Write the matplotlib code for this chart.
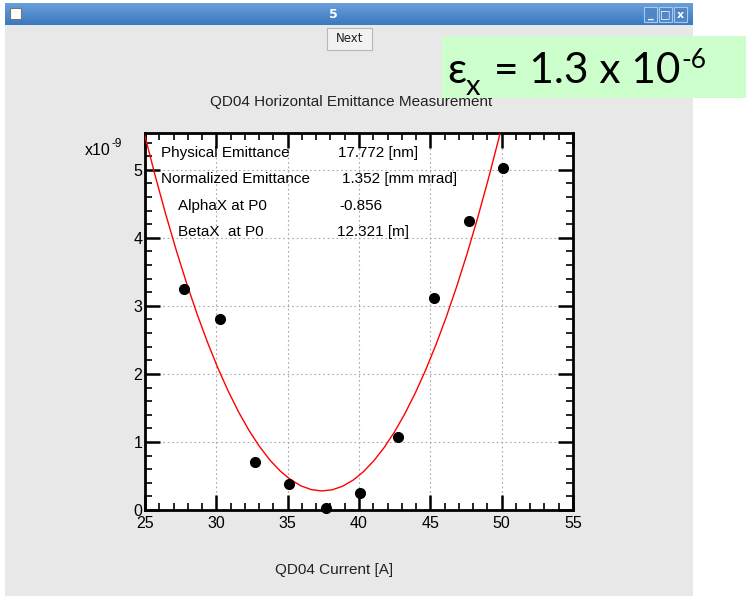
import numpy as np
import matplotlib.pyplot as plt
from matplotlib.patches import Rectangle
from matplotlib.ticker import MultipleLocator

plt.rcParams['font.family'] = ['Liberation Sans', 'DejaVu Sans']

# measured beam size^2 vs quad current
current = [27.73, 30.23, 32.71, 35.09, 37.72, 40.10, 42.73, 45.25, 47.70, 50.09]
sigma2 = [3.25, 2.80, 0.71, 0.38, 0.03, 0.25, 1.08, 3.12, 4.24, 5.03]

# parabola fit: sigma2 = fit_min + fit_curv * (I - fit_i0)^2
fit_i0 = 37.42
fit_min = 0.28
fit_curv = 0.0338
fit_current = np.linspace(25, 50.5, 36)

results = [
    ('Physical Emittance', '17.772 [nm]'),
    ('Normalized Emittance', '1.352 [mm mrad]'),
    ('AlphaX at P0', '-0.856'),
    ('BetaX  at P0', '12.321 [m]'),
]

W, H = 746, 596
fig = plt.figure(figsize=(W / 100, H / 100), dpi=100)


def fx(px):
    return px / W


def fy(py):
    return 1 - py / H


def box(x0, y0, x1, y1, **kw):
    r = Rectangle((fx(x0), fy(y1)), (x1 - x0) / W, (y1 - y0) / H,
                  transform=fig.transFigure, **kw)
    fig.add_artist(r)
    return r


# window frame
box(5, 3, 693, 596, facecolor='#e8e8e8', edgecolor='none', zorder=0)

# title bar gradient
tb = fig.add_axes([fx(5), fy(25), 688 / W, 22 / H])
grad = np.linspace(0, 1, 50).reshape(-1, 1)
tb.imshow(grad, aspect='auto', cmap=plt.matplotlib.colors.LinearSegmentedColormap.from_list(
    'tb', ['#6a9fda', '#3a78c0']), extent=[0, 1, 0, 1])
tb.set_axis_off()
fig.text(fx(333), fy(14), '5', color='white', fontsize=9, fontweight='bold',
         ha='center', va='center', family='DejaVu Sans')
box(10, 8, 21, 19, facecolor='white', edgecolor='#777777', lw=0.8, zorder=5)
for i, g in enumerate(['_', '\u25a1', 'x']):
    x0 = 644 + i * 15
    box(x0, 7, x0 + 13, 22, facecolor='#4f86c6', edgecolor='#a8c8ee', lw=0.8, zorder=5)
    fig.text(fx(x0 + 6.5), fy(14.5), g, color='white', fontsize=8, fontweight='bold',
             ha='center', va='center', family='DejaVu Sans', zorder=6)

# Next button
box(327, 28, 372, 50, facecolor='#f2f2f2', edgecolor='#b8b8b8', lw=0.8, zorder=2)
fig.text(fx(349.5), fy(39), 'Next', fontsize=8.5, ha='center', va='center',
         family='DejaVu Sans', color='#222222', zorder=3)

# plot
ax = fig.add_axes([fx(145), fy(510), (573 - 145) / W, (510 - 133) / H])
ax.plot(fit_current, fit_min + fit_curv * (fit_current - fit_i0) ** 2,
        color='red', lw=1, zorder=3)
ax.plot(current, sigma2, 'o', color='black', ms=7, zorder=4, clip_on=False)

ax.set_xlim(25, 55)
ax.set_ylim(0, 5.54)
ax.xaxis.set_major_locator(MultipleLocator(5))
ax.xaxis.set_minor_locator(MultipleLocator(1))
ax.yaxis.set_major_locator(MultipleLocator(1))
ax.yaxis.set_minor_locator(MultipleLocator(0.2))
ax.tick_params(which='both', direction='in', top=True, right=True, labelsize=11.5)
ax.tick_params(which='major', length=11, width=1.8)
ax.tick_params(which='minor', length=5, width=1.2)
ax.tick_params(axis='x', pad=4)
ax.tick_params(axis='y', pad=2)
for s in ax.spines.values():
    s.set_linewidth(2)
ax.grid(True, which='major', linestyle=(0, (1.5, 2.5)), color='#a8a8a8', lw=0.8)
ax.set_axisbelow(True)

# axis multiplier
fig.text(fx(85), fy(155), 'x10', fontsize=11.5, ha='left', va='baseline')
fig.text(fx(112), fy(147), '-9', fontsize=8.5, ha='left', va='baseline')

label_x = [161, 161, 178, 178]
value_x = [338, 342, 339, 337]
base_y = [157, 183, 210, 236]
for (name, val), lx, vx, by in zip(results, label_x, value_x, base_y):
    fig.text(fx(lx), fy(by), name, fontsize=11, ha='left', va='baseline', zorder=5)
    fig.text(fx(vx), fy(by), val, fontsize=11, ha='left', va='baseline', zorder=5)

fig.text(fx(351), fy(106), 'QD04 Horizontal Emittance Measurement', fontsize=11,
         ha='center', va='baseline', color='#222222')
fig.text(fx(334), fy(574), 'QD04 Current [A]', fontsize=11, ha='center',
         va='baseline', color='#222222')

# emittance callout
box(442, 36, 746, 98, facecolor='#ccffcc', edgecolor='none', zorder=10)
big = dict(va='baseline', ha='left', zorder=11, family=['Lato', 'DejaVu Sans'])
eps = fig.text(fx(447), fy(83), '\u03b5', fontsize=30.5, **big)
fig.canvas.draw()
sub_x = eps.get_window_extent().x1
fig.text(sub_x / W, fy(95), 'x', fontsize=21, **big)
main = fig.text(fx(494), fy(83), '= 1.3 x 10', fontsize=30.5, **big)
fig.canvas.draw()
right_px = main.get_window_extent().x1
fig.text(right_px / W + 1 / W, fy(68), '-6', fontsize=19, **big)

fig.savefig('out.png', dpi=100)
